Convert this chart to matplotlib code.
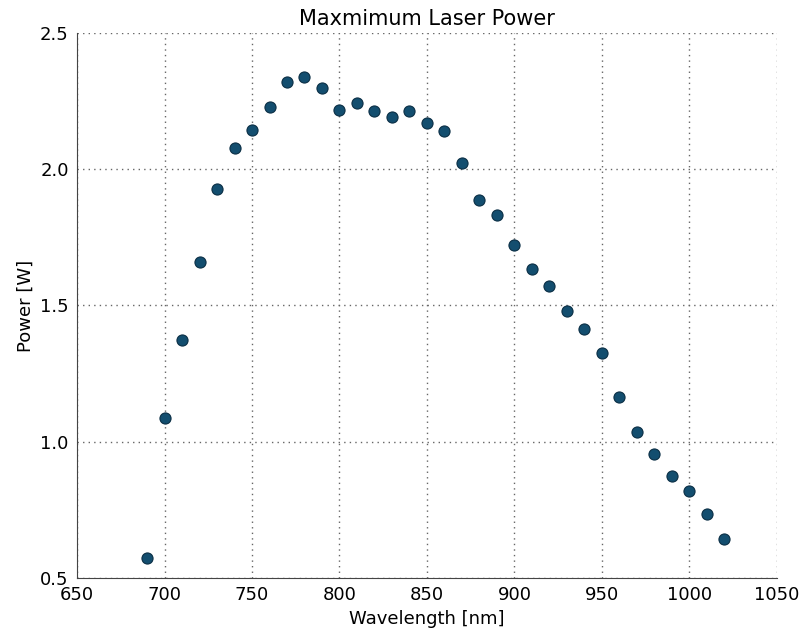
import matplotlib
matplotlib.use("Agg")
import matplotlib.pyplot as plt

# wavelength (nm) and measured max power (W)
wavelength = [690, 700, 710, 720, 730, 740, 750, 760, 770, 780, 790, 800,
              810, 820, 830, 840, 850, 860, 870, 880, 890, 900, 910, 920,
              930, 940, 950, 960, 970, 980, 990, 1000, 1010, 1020]
power = [0.573, 1.087, 1.373, 1.66, 1.928, 2.078, 2.144, 2.228, 2.32, 2.339,
         2.298, 2.217, 2.243, 2.214, 2.192, 2.214, 2.17, 2.14, 2.023, 1.887,
         1.832, 1.722, 1.634, 1.572, 1.48, 1.414, 1.326, 1.164, 1.036, 0.955,
         0.874, 0.819, 0.735, 0.643]

fig = plt.figure(figsize=(7.99, 6.35), dpi=100)
ax = fig.add_axes([0.0964, 0.0898, 0.876, 0.8582])

ax.plot(wavelength, power, 'o', color='#134e6f', markeredgecolor='#0b2f45',
        markersize=8, markeredgewidth=0.8)

ax.set_xlim(650, 1050)
ax.set_ylim(0.5, 2.5)
ax.set_xticks(range(650, 1051, 50))
ax.set_yticks([0.5, 1.0, 1.5, 2.0, 2.5])
ax.grid(True, linestyle=(0, (1, 3)), color='#666666', linewidth=1)
ax.tick_params(length=0, labelsize=13, pad=6)
for side in ['top', 'right']:
    ax.spines[side].set_visible(False)
for side in ['left', 'bottom']:
    ax.spines[side].set_color('#444444')

ax.set_title('Maxmimum Laser Power', fontsize=15)
ax.set_xlabel('Wavelength [nm]', fontsize=13)
ax.set_ylabel('Power [W]', fontsize=13)

fig.savefig('out.png', dpi=100)
